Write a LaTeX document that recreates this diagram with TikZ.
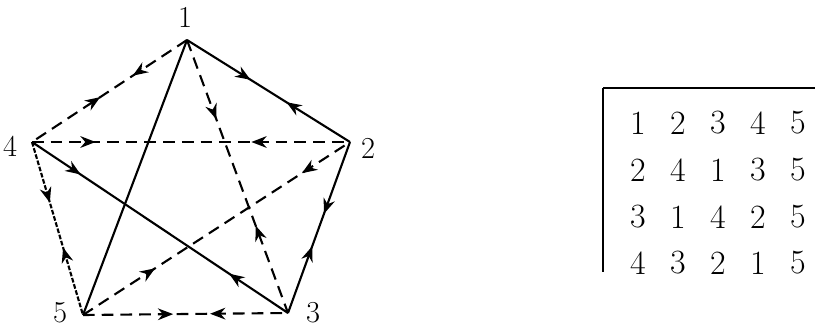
\documentclass[tikz,border=0pt]{standalone}
\usetikzlibrary{arrows.meta,decorations.markings}
\tikzset{
  % vertex number
  vlab/.style   = {font=\fontsize{26}{28}\selectfont, inner sep=0pt},
  % entry of the table
  cell/.style   = {font=\fontsize{29}{31}\selectfont, inner sep=0pt},
  % graph edges
  edge/.style   = {line width=1.8pt, black},
  broken/.style = {edge, dash pattern=on 10pt off 6pt},
  dotty/.style  = {edge, dash pattern=on 4pt off 1.5pt},
  % two opposite arrows sitting on one edge
  twoarr/.style 2 args = {postaction={decorate, decoration={markings,
      mark=at position #1 with {\arrow{Stealth[length=13pt,width=10pt]}},
      mark=at position #2 with {\arrowreversed{Stealth[length=13pt,width=10pt]}}}}},
  % table rules
  rule/.style   = {line width=1.4pt},
}
\begin{document}
\begin{tikzpicture}[x=0.03cm, y=-0.03cm]
  \useasboundingbox (0,0) rectangle (815,330);

  % pentagon corners
  \coordinate (v1) at (187,40);
  \coordinate (v2) at (350,142);
  \coordinate (v3) at (288,313);
  \coordinate (v5) at (83,315);
  \coordinate (v4) at (32,142);

  \node[vlab] (n1) at (185,17)  {1};
  \node[vlab] (n2) at (368,148) {2};
  \node[vlab] (n3) at (313,313) {3};
  \node[vlab] (n5) at (60,313)  {5};
  \node[vlab] (n4) at (10,146)  {4};

  % --- edges ---
  \draw[edge] (v1) -- (v5);
  \foreach \a/\b/\p/\q in {v1/v2/0.39/0.61, v4/v3/0.19/0.77, v2/v3/0.42/0.61} {
    \draw[edge, twoarr={\p}{\q}] (\a) -- (\b);
  }
  \foreach \a/\b/\p/\q in {v1/v4/0.35/0.56, v4/v2/0.2/0.69, v1/v3/0.29/0.68,
                           v5/v2/0.27/0.82, v5/v3/0.44/0.62} {
    \draw[broken, twoarr={\p}{\q}] (\a) -- (\b);
  }
  \draw[dotty, twoarr={0.35}{0.61}] (v4) -- (v5);

  % --- table ---
  \coordinate (tl) at (603,88);
  \coordinate (tr) at (815,88);
  \coordinate (bl) at (603,272);
  \draw[rule] (tl) -- (tr);
  \draw[rule] (tl) -- (bl);
  \foreach \row/\y in {{1,2,3,4,5}/123, {2,4,1,3,5}/170, {3,1,4,2,5}/217, {4,3,2,1,5}/263} {
    \foreach \d [count=\c] in \row {
      \node[cell] (c\y-\c) at (598+40*\c,\y) {\d};
    }
  }
\end{tikzpicture}
\end{document}
